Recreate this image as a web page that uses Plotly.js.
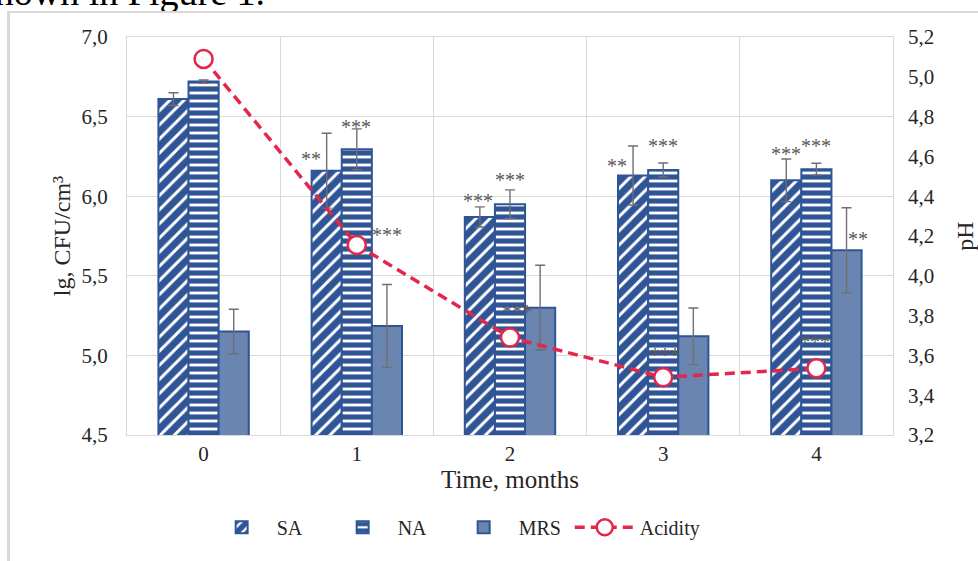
<!DOCTYPE html>
<html>
<head>
<meta charset="utf-8">
<script src="https://cdn.plot.ly/plotly-3.0.1.min.js"></script>
<style>
  html, body { margin:0; padding:0; background:#fff; }
  #wrap { position:relative; width:978px; height:561px; overflow:hidden; }
  #chart { position:absolute; left:0; top:0; width:978px; height:561px; }
  #captxt { position:absolute; right:713px; top:-27px; font-family:'Liberation Serif','Times New Roman',serif; font-size:38px; line-height:1; white-space:nowrap; color:#000; pointer-events:none; }
  #frameL { position:absolute; left:7px; top:11px; width:3px; height:560px; background:#d9d9d9; pointer-events:none; }
  #frameT { position:absolute; left:7px; top:11px; width:980px; height:2px; background:#d9d9d9; pointer-events:none; }
</style>
</head>
<body>
<div id="wrap">
  <div id="chart"></div>
  <div id="captxt">shown in Figure 1.</div>
  <div id="frameL"></div>
  <div id="frameT"></div>
</div>
<script>
// ---- data ----
const months = [0, 1, 2, 3, 4];
const monthLabels = ['0', '1', '2', '3', '4'];
const SA      = [6.61, 6.16, 5.87, 6.13, 6.10];
const SA_err  = [0.04, 0.235, 0.063, 0.185, 0.134];
const NA      = [6.72, 6.295, 5.95, 6.165, 6.17];
const NA_err  = [0.01, 0.128, 0.09, 0.044, 0.037];
const MRS     = [5.15, 5.185, 5.30, 5.12, 5.66];
const MRS_err = [0.14, 0.26, 0.266, 0.178, 0.267];
const acidity = [5.09, 4.155, 3.69, 3.49, 3.535];
const sigSA   = ['', '**', '***', '**', '***'];
const sigNA   = ['', '***', '***', '***', '***'];
const sigMRS  = ['', '', '', '', '**'];
const sigAcid = ['', '***', '***', '***', '***'];

// ---- label placement (pixels, relative to each bar / marker) ----
const barShift = {SA: -30, NA: 0, MRS: 30};
const posSA   = {dx: [0, -16, -2, -16, 0],  dy: [0, -26, 6, -20, 5]};
const posNA   = {dx: [0, -1, 0, 0, 0],      dy: [0, 2, 10, 17, 17]};
const posMRS  = {dx: [0, 0, 0, 0, 12],      dy: [0, 0, 0, 0, -31]};
const posAcid = {dx: [0, 30, 7, 2, -1],     dy: [0, 10, 25, 22, 26]};

const FONT = "'Liberation Serif', 'Times New Roman', serif";
const edge = '#2f5597';
const errStyle = {type: 'data', color: '#6f6f6f', thickness: 1.4, width: 5, visible: true};

const traces = [
  {type: 'bar', name: 'SA', x: months, y: SA,
   error_y: Object.assign({array: SA_err}, errStyle),
   marker: {color: '#ffffff', line: {color: edge, width: 2},
            pattern: {shape: '/', fgcolor: edge, bgcolor: '#ffffff', fgopacity: 1, size: 10, solidity: 0.7, fillmode: 'replace'}}},
  {type: 'bar', name: 'NA', x: months, y: NA,
   error_y: Object.assign({array: NA_err}, errStyle),
   marker: {color: '#ffffff', line: {color: edge, width: 2},
            pattern: {shape: '-', fgcolor: edge, bgcolor: '#ffffff', fgopacity: 1, size: 8, solidity: 0.65, fillmode: 'replace'}}},
  {type: 'bar', name: 'MRS', x: months, y: MRS,
   error_y: Object.assign({array: MRS_err}, errStyle),
   marker: {color: '#6a86b0', line: {color: edge, width: 2}}},
  {type: 'scatter', mode: 'lines+markers', name: 'Acidity', x: months, y: acidity, yaxis: 'y2',
   legend: 'legend2',
   line: {color: '#e3264b', width: 3.5, dash: '10px,6px'},
   marker: {symbol: 'circle', size: 18, color: '#ffffff', line: {color: '#e3264b', width: 2.5}}}
];

const annotations = [];
function addLabels(texts, anchorVals, pos, shift, yref) {
  texts.forEach((t, i) => {
    if (!t) return;
    annotations.push({
      x: months[i], y: anchorVals[i], xref: 'x', yref: yref,
      text: t, showarrow: false, xanchor: 'center', yanchor: 'middle',
      xshift: shift + pos.dx[i], yshift: pos.dy[i],
      font: {family: FONT, size: 20, color: '#595959'}
    });
  });
}
addLabels(sigSA, SA.map((v, i) => v + SA_err[i]), posSA, barShift.SA, 'y');
addLabels(sigNA, NA.map((v, i) => v + NA_err[i]), posNA, barShift.NA, 'y');
addLabels(sigMRS, MRS.map((v, i) => v + MRS_err[i]), posMRS, barShift.MRS, 'y');
addLabels(sigAcid, acidity, posAcid, 0, 'y2');

const grid = '#d9d9d9';
const legendFont = {family: FONT, size: 20, color: '#262626'};
const layout = {
  width: 978, height: 561,
  margin: {l: 127, r: 85, t: 37, b: 126},
  separators: ',.',
  font: {family: FONT, color: '#262626'},
  paper_bgcolor: 'rgba(0,0,0,0)', plot_bgcolor: '#ffffff',
  barmode: 'group', bargap: 0.41, bargroupgap: 0,
  showlegend: true,
  legend: {orientation: 'h', x: 0.104, xanchor: 'left', y: -0.183, yanchor: 'top', itemwidth: 60,
           entrywidth: 46, entrywidthmode: 'pixels', font: legendFont, traceorder: 'normal'},
  legend2: {orientation: 'h', x: 0.578, xanchor: 'left', y: -0.183, yanchor: 'top', itemwidth: 60,
            font: legendFont},
  xaxis: {type: 'linear', range: [-0.5, 4.5], tickmode: 'array', tickvals: months, ticktext: monthLabels,
          showgrid: false, zeroline: false, showline: true, linecolor: grid, linewidth: 1, mirror: true,
          ticks: '', tickfont: {size: 21, color: '#262626'},
          minor: {tickmode: 'linear', tick0: 0.5, dtick: 1, showgrid: true, gridcolor: grid, gridwidth: 1, ticks: ''},
          title: {text: 'Time, months', font: {size: 25, color: '#262626'}, standoff: 3}},
  yaxis: {range: [4.5, 7.0], tick0: 4.5, dtick: 0.5, tickformat: '.1f', gridcolor: grid, gridwidth: 1,
          showline: true, linecolor: grid, mirror: true, zeroline: false, ticks: '',
          ticklabelstandoff: 14, tickfont: {size: 21, color: '#262626'},
          title: {text: 'lg, CFU/cm³', font: {size: 24, color: '#262626'}, standoff: 4}},
  yaxis2: {overlaying: 'y', side: 'right', range: [3.2, 5.2], tick0: 3.2, dtick: 0.2, tickformat: '.1f',
           showgrid: false, zeroline: false, showline: false, ticks: '',
           ticklabelstandoff: 14, tickfont: {size: 21, color: '#262626'},
           title: {text: 'pH', font: {size: 24, color: '#262626'}, standoff: 22}},
  annotations: annotations
};

Plotly.newPlot('chart', traces, layout, {displayModeBar: false, staticPlot: true});
</script>
</body>
</html>
